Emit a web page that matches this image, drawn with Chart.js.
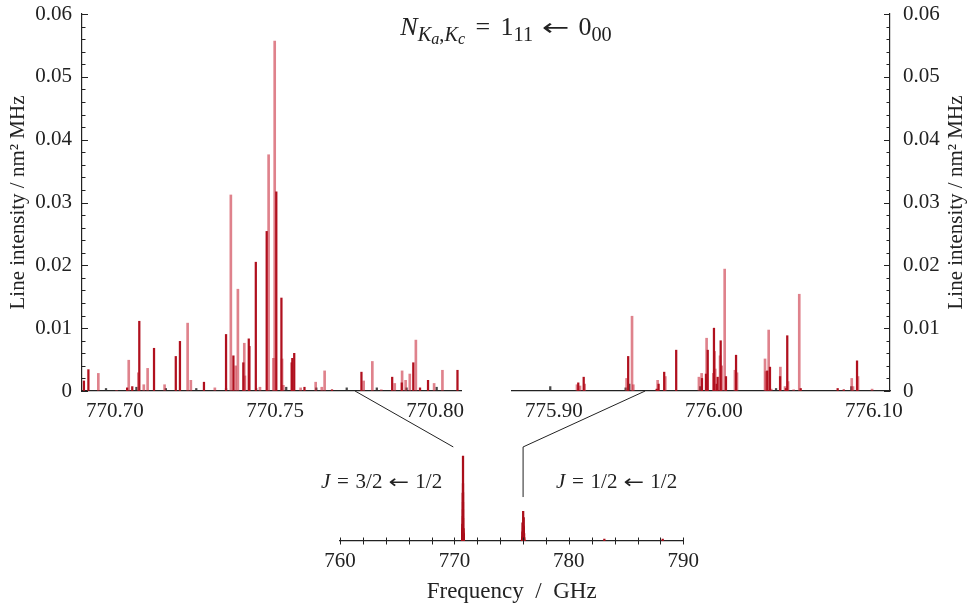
<!DOCTYPE html>
<html><head><meta charset="utf-8">
<script src="https://cdn.jsdelivr.net/npm/chart.js@4/dist/chart.umd.min.js"></script>
<style>
html,body{margin:0;padding:0;background:#fff;}
#wrap{position:relative;width:967px;height:612px;overflow:hidden;font-family:"Liberation Serif",serif;color:#222;}
canvas{position:absolute;}
.lbl{position:absolute;white-space:nowrap;line-height:1;}
.s{font-size:0.78em;position:relative;top:0.3em;}
.ss{font-size:0.8em;position:relative;top:0.2em;font-style:italic;}
.r{margin:0 0.4em;display:inline-block;}
.ar{font-family:"DejaVu Sans",sans-serif;font-size:0.9em;transform:scaleX(1.4);margin:0 0.55em;}
.rj{margin:0 0.32em;display:inline-block;}
.arj{font-family:"DejaVu Sans",sans-serif;font-size:0.9em;transform:scaleX(1.3);margin:0 0.45em;}
</style></head><body>
<div id="wrap">
<canvas id="cL" width="480" height="432" style="left:0;top:0"></canvas>
<canvas id="cR" width="477" height="432" style="left:490px;top:0"></canvas>
<canvas id="cB" width="420" height="176" style="left:300px;top:436px"></canvas>
<canvas id="cO" width="967" height="612" style="left:0;top:0;pointer-events:none"></canvas>
<div class="lbl" style="left:256px;top:14px;width:500px;text-align:center;font-size:26px;"><i>N</i><span class="s"><i>K</i><span class="ss">a</span>,<i>K</i><span class="ss">c</span></span><span class="r">=</span>1<span class="s">11</span><span class="r ar">←</span>0<span class="s">00</span></div>
<div class="lbl" style="left:321px;top:471px;font-size:21px;"><i>J</i><span class="rj">=</span>3/2<span class="rj arj">←</span>1/2</div>
<div class="lbl" style="left:556px;top:471px;font-size:21px;"><i>J</i><span class="rj">=</span>1/2<span class="rj arj">←</span>1/2</div>
</div>
<script>
// ---- axis ranges and tick labels ----
const leftRange = [770.6897, 770.8081];
const rightRange = [775.8738, 776.1100];
const bottomRange = [760, 790];
const leftTickLabels = [770.70, 770.75, 770.80];
const rightTickLabels = [775.90, 776.00, 776.10];
const bottomTickLabels = [760, 770, 780, 790];
const intensityTicks = [0, 0.01, 0.02, 0.03, 0.04, 0.05, 0.06];

// ---- J = 3/2 <- 1/2 component (left panel) ----
const leftDarkFreq = [770.6903,770.6917,770.7038,770.7054,770.7076,770.7122,770.7190,770.7203,770.7278,770.7347,770.7370,770.7401,770.7418,770.7420,770.7440,770.7474,770.7504,770.7520,770.7552,770.7554,770.7560,770.7592,770.7678,770.7770,770.7866,770.7896,770.7932,770.7953,770.7978,770.8070];
const leftDarkInt  = [0.0016,0.0034,0.0005,0.0007,0.0111,0.0068,0.0055,0.0079,0.0014,0.0090,0.0056,0.0045,0.0083,0.0071,0.0205,0.0254,0.0317,0.0148,0.0045,0.0052,0.0060,0.0006,0.0002,0.0030,0.0022,0.0013,0.0045,0.0005,0.0017,0.0033];
const leftLightFreq = [770.6948,770.7005,770.7043,770.7073,770.7090,770.7102,770.7155,770.7227,770.7237,770.7312,770.7362,770.7377,770.7384,770.7404,770.7406,770.7453,770.7480,770.7495,770.7499,770.7522,770.7526,770.7580,770.7627,770.7646,770.7655,770.7777,770.7804,770.7832,770.7874,770.7897,770.7908,770.7921,770.7940,770.7997,770.8023];
const leftLightInt  = [0.0028,0.0001,0.0049,0.0029,0.0010,0.0036,0.0010,0.0108,0.0017,0.0005,0.0312,0.0040,0.0162,0.0076,0.0024,0.0006,0.0376,0.0052,0.0557,0.0051,0.0009,0.0005,0.0014,0.0006,0.0032,0.0016,0.0047,0.0002,0.0012,0.0032,0.0017,0.0027,0.0081,0.0012,0.0033];
const leftGreyFreq = [770.6972,770.7067,770.7159,770.7254,770.7347,770.7441,770.7535,770.7629,770.7724,770.7818,770.7911,770.8005];
const leftGreyInt  = [0.0004,0.0006,0.0004,0.0004,0.0004,0.0004,0.0006,0.0005,0.0005,0.0005,0.0005,0.0006];

// ---- J = 1/2 <- 1/2 component (right panel) ----
const rightDarkFreq = [775.9152,775.9186,775.9464,775.9642,775.9654,775.9689,775.9764,775.9925,775.9950,775.9961,776.0000,776.0017,776.0023,776.0042,776.0075,776.0138,776.0333,776.0350,776.0413,776.0450,776.0458,776.0542,776.0773,776.0811,776.0894];
const rightDarkInt  = [0.0013,0.0022,0.0055,0.0003,0.0011,0.0030,0.0065,0.0020,0.0027,0.0065,0.0100,0.0011,0.0022,0.0080,0.0023,0.0057,0.0032,0.0038,0.0023,0.0004,0.0088,0.0004,0.0004,0.0002,0.0048];
const rightLightFreq = [775.9144,775.9163,775.9192,775.9454,775.9488,775.9496,775.9648,775.9696,775.9906,775.9923,775.9954,775.9996,776.0004,776.0008,776.0038,776.0048,776.0067,776.0131,776.0144,776.0319,776.0325,776.0342,776.0358,776.0415,776.0444,776.0463,776.0498,776.0533,776.0861,776.0869,776.0900,776.0988];
const rightLightInt  = [0.0010,0.0008,0.0011,0.0020,0.0119,0.0010,0.0017,0.0023,0.0022,0.0028,0.0084,0.0028,0.0063,0.0035,0.0056,0.0040,0.0194,0.0033,0.0029,0.0051,0.0031,0.0097,0.0003,0.0038,0.0007,0.0015,0.0002,0.0154,0.0020,0.0007,0.0023,0.0003];
const rightGreyFreq = [775.8977,775.9448,775.9471,775.9914,776.0388,776.0858];
const rightGreyInt  = [0.0007,0.0005,0.0011,0.0007,0.0004,0.0007];

// ---- weak lines seen only in the overview ----
const farFreq = [783.1, 788.2];
const farInt  = [0.0012, 0.0012];

// ---- pointer lines (in data units) ----
const linkLeft  = {fromFreq: 770.775, toFreq: 769.9, toInt: 0.0616};
const linkRight = {fromFreq: 775.957, toFreq: 776.0, toInt: 0.0616, endInt: 0.0288};

const DARK = 'rgb(176,16,30)';
const LIGHT = 'rgba(200,40,56,0.58)';
const GREY = 'rgba(40,40,40,0.85)';
const AX = '#222';
const FONT = "'Liberation Serif', 'Times New Roman', serif";
const FS = 21;

function pts(f, v) { return f.map((x, i) => ({x: x, y: v[i]})); }
function ds(data, color, w) { return {data: data, backgroundColor: color, borderWidth: 0, barThickness: w, grouped: false}; }

const yTitle = 'Line intensity / nm\u00B2 MHz';

const tickMarks = {
  id: 'tickMarks',
  afterDraw(chart, args, o) {
    const ctx = chart.ctx;
    ctx.save();
    ctx.strokeStyle = AX; ctx.lineWidth = 1;
    if (o.y) {
      const s = chart.scales.y;
      const x0 = o.y === 'left' ? chart.chartArea.left : chart.chartArea.right;
      const dir = o.y === 'left' ? 1 : -1;
      const n = Math.round((s.max - s.min) / 0.002);
      for (let i = 0; i <= n; i++) {
        const v = s.min + i * 0.002;
        const len = (i % 5 === 0) ? 6 : 3.5;
        const py = Math.round(s.getPixelForValue(v)) + 0.5;
        ctx.beginPath(); ctx.moveTo(x0, py); ctx.lineTo(x0 + dir * len, py); ctx.stroke();
      }
    }
    if (o.x) {
      const s = chart.scales.x;
      const y0 = chart.chartArea.bottom;
      for (let v = s.min; v <= s.max + 1e-9; v += 2) {
        const px = Math.round(s.getPixelForValue(v)) + 0.5;
        ctx.beginPath(); ctx.moveTo(px, y0 - 3.5); ctx.lineTo(px, y0 + 3.5); ctx.stroke();
      }
    }
    if (o.rightTitle) {
      ctx.fillStyle = AX;
      ctx.font = '21px ' + FONT;
      ctx.translate(chart.width - 11, (chart.chartArea.top + chart.chartArea.bottom) / 2);
      ctx.rotate(-Math.PI / 2);
      ctx.textAlign = 'center'; ctx.textBaseline = 'middle';
      ctx.fillText(yTitle, 0, 0);
    }
    ctx.restore();
  }
};

function yAxis(pos) {
  return {
    min: 0, max: 0.06, position: pos,
    afterBuildTicks: s => { s.ticks = intensityTicks.map(v => ({value: v})); },
    afterFit: s => { s.width = pos === 'left' ? 82 : 77; s.paddingTop = 0; s.paddingBottom = 0; },
    border: {color: AX, width: 1.2},
    grid: {drawOnChartArea: false, drawTicks: false},
    ticks: {padding: pos === 'left' ? 10 : 13, color: AX, font: {family: FONT, size: FS},
            callback: v => v === 0 ? '0' : v.toFixed(2)},
    title: {display: pos === 'left', text: yTitle, color: AX, font: {family: FONT, size: 21}, padding: {top: 6, bottom: 0}}
  };
}
function xAxis(range, labels, dec) {
  return {
    type: 'linear', min: range[0], max: range[1], offset: false,
    afterBuildTicks: s => { s.ticks = labels.map(v => ({value: v})); },
    afterFit: s => { s.height = 41; },
    border: {color: AX, width: 1.2},
    grid: {display: false, drawTicks: false, offset: false},
    ticks: {padding: 8, color: AX, maxRotation: 0, autoSkip: false, font: {family: FONT, size: FS},
            callback: v => Number(v).toFixed(dec)}
  };
}
const common = {
  responsive: false, animation: false, events: [],
  plugins: {legend: {display: false}, tooltip: {enabled: false}}
};

const chartL = new Chart(document.getElementById('cL'), {
  type: 'bar',
  data: {datasets: [
    ds(pts(leftDarkFreq, leftDarkInt), DARK, 1.6),
    ds(pts(leftLightFreq, leftLightInt), LIGHT, 2),
    ds(pts(leftGreyFreq, leftGreyInt), GREY, 1.6)
  ]},
  options: Object.assign({}, common, {
    layout: {padding: {top: 14, right: 19, left: 0, bottom: 0}},
    plugins: Object.assign({}, common.plugins, {tickMarks: {y: 'left'}}),
    scales: {x: xAxis(leftRange, leftTickLabels, 2), y: yAxis('left')}
  }),
  plugins: [tickMarks]
});

const chartR = new Chart(document.getElementById('cR'), {
  type: 'bar',
  data: {datasets: [
    ds(pts(rightDarkFreq, rightDarkInt), DARK, 1.6),
    ds(pts(rightLightFreq, rightLightInt), LIGHT, 2),
    ds(pts(rightGreyFreq, rightGreyInt), GREY, 1.6)
  ]},
  options: Object.assign({}, common, {
    layout: {padding: {top: 14, right: 0, left: 22, bottom: 0}},
    plugins: Object.assign({}, common.plugins, {tickMarks: {y: 'right', rightTitle: true}}),
    scales: {x: xAxis(rightRange, rightTickLabels, 2), y: yAxis('right')}
  }),
  plugins: [tickMarks]
});

const allFreq = leftDarkFreq.concat(leftLightFreq, leftGreyFreq, rightDarkFreq, rightLightFreq, rightGreyFreq, farFreq);
const allInt = leftDarkInt.concat(leftLightInt, leftGreyInt, rightDarkInt, rightLightInt, rightGreyInt, farInt);

const chartB = new Chart(document.getElementById('cB'), {
  type: 'bar',
  data: {datasets: [ds(pts(allFreq, allInt), 'rgb(170,14,26)', 1.6)]},
  options: Object.assign({}, common, {
    layout: {padding: {top: 13.4, right: 36.7, left: 40, bottom: 0}},
    plugins: Object.assign({}, common.plugins, {tickMarks: {x: true}}),
    scales: {
      x: {
        type: 'linear', min: bottomRange[0], max: bottomRange[1], offset: false,
        afterBuildTicks: s => { s.ticks = bottomTickLabels.map(v => ({value: v})); },
        afterFit: s => { s.height = 71; },
        border: {color: AX, width: 1.2},
        grid: {display: false, drawTicks: false, offset: false},
        ticks: {padding: 8, color: AX, maxRotation: 0, autoSkip: false, font: {family: FONT, size: FS}},
        title: {display: true, text: 'Frequency  /  GHz', color: AX, font: {family: FONT, size: 23}, padding: {top: 0, bottom: 6}}
      },
      y: {display: false, min: 0, max: 0.06}
    }
  }),
  plugins: [tickMarks]
});

// pointer lines linking the overview peaks to the zoomed panels
(function () {
  const o = document.getElementById('cO').getContext('2d');
  const cl = document.getElementById('cL'), cr = document.getElementById('cR'), cb = document.getElementById('cB');
  const P = (chart, cv, xv, yv) => [cv.offsetLeft + chart.scales.x.getPixelForValue(xv), cv.offsetTop + chart.scales.y.getPixelForValue(yv)];
  o.strokeStyle = AX; o.lineWidth = 1;
  let a = P(chartL, cl, linkLeft.fromFreq, 0), b = P(chartB, cb, linkLeft.toFreq, linkLeft.toInt);
  o.beginPath(); o.moveTo(a[0], a[1]); o.lineTo(b[0], b[1]); o.stroke();
  a = P(chartR, cr, linkRight.fromFreq, 0); b = P(chartB, cb, linkRight.toFreq, linkRight.toInt);
  const c = P(chartB, cb, linkRight.toFreq, linkRight.endInt);
  o.beginPath(); o.moveTo(a[0], a[1]); o.lineTo(b[0], b[1]); o.lineTo(c[0], c[1]); o.stroke();
})();
</script>
</body></html>
